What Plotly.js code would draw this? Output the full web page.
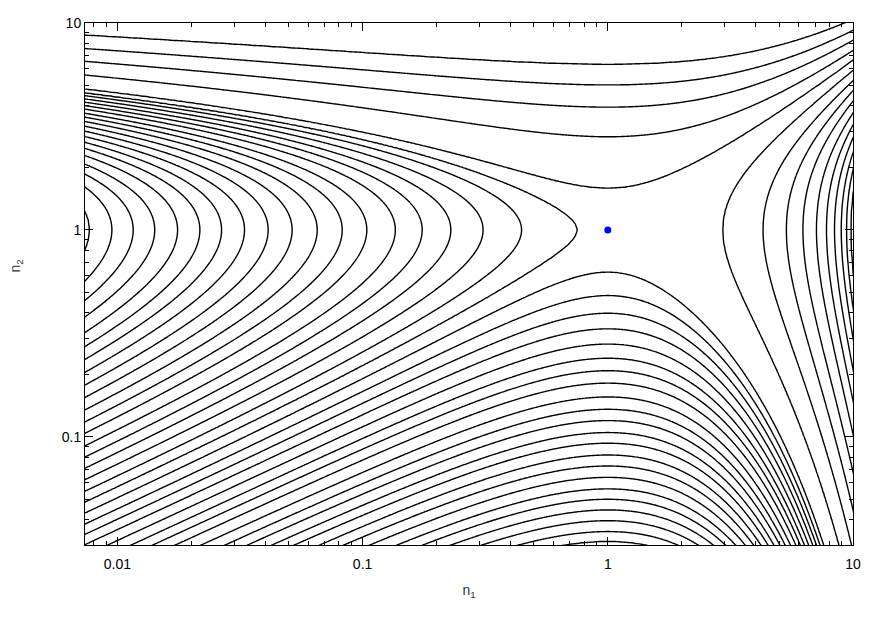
<!DOCTYPE html>
<html><head><meta charset="utf-8">
<script src="https://cdn.plot.ly/plotly-3.0.1.min.js"></script>
<style>body{margin:0;background:#fff}#chart{width:883px;height:619px}</style>
</head><body><div id="chart"></div>
<script>
// ---- values ----
// n1 where the left C-shaped contours turn (on n2 = 1), nearest the saddle first
const leftTipX = [0.75, 0.445, 0.31, 0.229, 0.175, 0.136, 0.104, 0.0826, 0.0653, 0.0516,
                  0.0412, 0.033, 0.0266, 0.0217, 0.0176, 0.0142, 0.0116, 0.0095, 0.0077];
// n1 where the right C-shaped contours turn (on n2 = 1)
const rightTipX = [2.95, 4.30, 5.35, 6.25, 7.10, 7.80, 8.41, 8.96, 9.42, 9.8];
// n2 where the upper contours cross n1 = 1
const topLineY = [1.59, 2.82, 3.92, 5.02, 6.31];
// n2 where the lower (hump) contours peak at n1 = 1
const bottomHumpY = [0.625, 0.482, 0.396, 0.333, 0.281, 0.240, 0.209, 0.182, 0.156, 0.136, 0.120,
                     0.105, 0.0933, 0.0818, 0.0724, 0.0638, 0.0561, 0.050, 0.0444, 0.0394, 0.0349, 0.0313];
// fixed point (blue dot)
const pointX = [1], pointY = [1];
// relative weight of the n1 term in the conserved quantity
const weightN1 = 0.5355;
// axes
const xRangeLog = [-2.132, 1];
const yRangeLog = [-1.522, 1];
const xTickVals = [0.01, 0.1, 1, 10], xTickText = ['0.01', '0.1', '1', '10'];
const yTickVals = [0.1, 1, 10], yTickText = ['0.1', '1', '10'];
const xTitle = 'n<sub>1</sub>', yTitle = 'n<sub>2</sub>';

// ---- build the field ----
function H(n1, n2) { return weightN1 * (n1 - Math.log(n1) - 1) - (n2 - Math.log(n2) - 1); }
const hLeft = leftTipX.map(x => Math.abs(H(x, 1))).sort((a, b) => a - b);
const hRight = rightTipX.map(x => Math.abs(H(x, 1))).sort((a, b) => a - b);
const hTop = topLineY.map(y => Math.abs(H(1, y))).sort((a, b) => a - b);
const hBottom = bottomHumpY.map(y => Math.abs(H(1, y))).sort((a, b) => a - b);

function idx(a, lv) {
  if (a <= lv[0]) return 0.5 * a / lv[0];
  for (let i = 1; i < lv.length; i++) {
    if (a <= lv[i]) return (i - 0.5) + (a - lv[i - 1]) / (lv[i] - lv[i - 1]);
  }
  const n = lv.length, sp = lv[n - 1] - lv[n - 2];
  return (n - 0.5) + 0.45 * Math.tanh((a - lv[n - 1]) / sp);
}

const NX = 480, NY = 420;
const gx = [], gy = [];
for (let i = 0; i < NX; i++) gx.push(Math.pow(10, xRangeLog[0] - 0.02 + (xRangeLog[1] - xRangeLog[0] + 0.04) * i / (NX - 1)));
for (let j = 0; j < NY; j++) gy.push(Math.pow(10, yRangeLog[0] - 0.02 + (yRangeLog[1] - yRangeLog[0] + 0.04) * j / (NY - 1)));
const z = gy.map(y => gx.map(x => {
  const h = H(x, y);
  if (h >= 0) return idx(h, x < 1 ? hLeft : hRight);
  return -idx(-h, y < 1 ? hBottom : hTop);
}));

const traces = [
  {
    type: 'contour', x: gx, y: gy, z: z,
    autocontour: false,
    contours: {start: -39.5, end: 39.5, size: 1, coloring: 'lines', showlabels: false},
    colorscale: [[0, '#000'], [1, '#000']],
    showscale: false,
    line: {width: 1.4, smoothing: 0.6},
    hoverinfo: 'skip'
  },
  {
    type: 'scatter', mode: 'markers', x: pointX, y: pointY,
    marker: {color: '#0000ff', size: 7}, hoverinfo: 'skip'
  }
];

function minorVals(lo, hi) {
  const v = [];
  for (let e = Math.floor(lo) - 1; e <= Math.ceil(hi); e++)
    for (let d = 2; d <= 9; d++) v.push(d * Math.pow(10, e));
  return v;
}

const font = 'Liberation Sans, Arial, sans-serif';
const axisCommon = {
  type: 'log', showgrid: false, zeroline: false,
  showline: true, linecolor: '#000', linewidth: 1, mirror: 'ticks',
  ticks: 'inside', ticklen: 8, tickcolor: '#000', tickwidth: 1,
  tickmode: 'array',
  tickfont: {family: font, size: 14, color: '#000'}
};

const layout = {
  width: 883, height: 619,
  margin: {l: 85, r: 30, t: 23, b: 74},
  paper_bgcolor: '#fff', plot_bgcolor: '#fff',
  showlegend: false,
  xaxis: Object.assign({}, axisCommon, {
    range: xRangeLog, tickvals: xTickVals, ticktext: xTickText,
    ticklabelstandoff: 6,
    minor: {tickmode: 'array', tickvals: minorVals(xRangeLog[0], xRangeLog[1]), ticks: 'inside', ticklen: 4, tickcolor: '#000', showgrid: false},
    title: {text: xTitle, font: {family: font, size: 14, color: '#333'}, standoff: 14}
  }),
  yaxis: Object.assign({}, axisCommon, {
    range: yRangeLog, tickvals: yTickVals, ticktext: yTickText,
    minor: {tickmode: 'array', tickvals: minorVals(yRangeLog[0], yRangeLog[1]), ticks: 'inside', ticklen: 4, tickcolor: '#000', showgrid: false}
  }),
  annotations: [{
    text: yTitle, textangle: -90, showarrow: false,
    xref: 'paper', yref: 'paper', x: -0.09, y: 0.535, xanchor: 'center', yanchor: 'middle',
    font: {family: font, size: 14, color: '#333'}
  }]
};

Plotly.newPlot('chart', traces, layout, {staticPlot: true, displayModeBar: false});
</script>
</body></html>
